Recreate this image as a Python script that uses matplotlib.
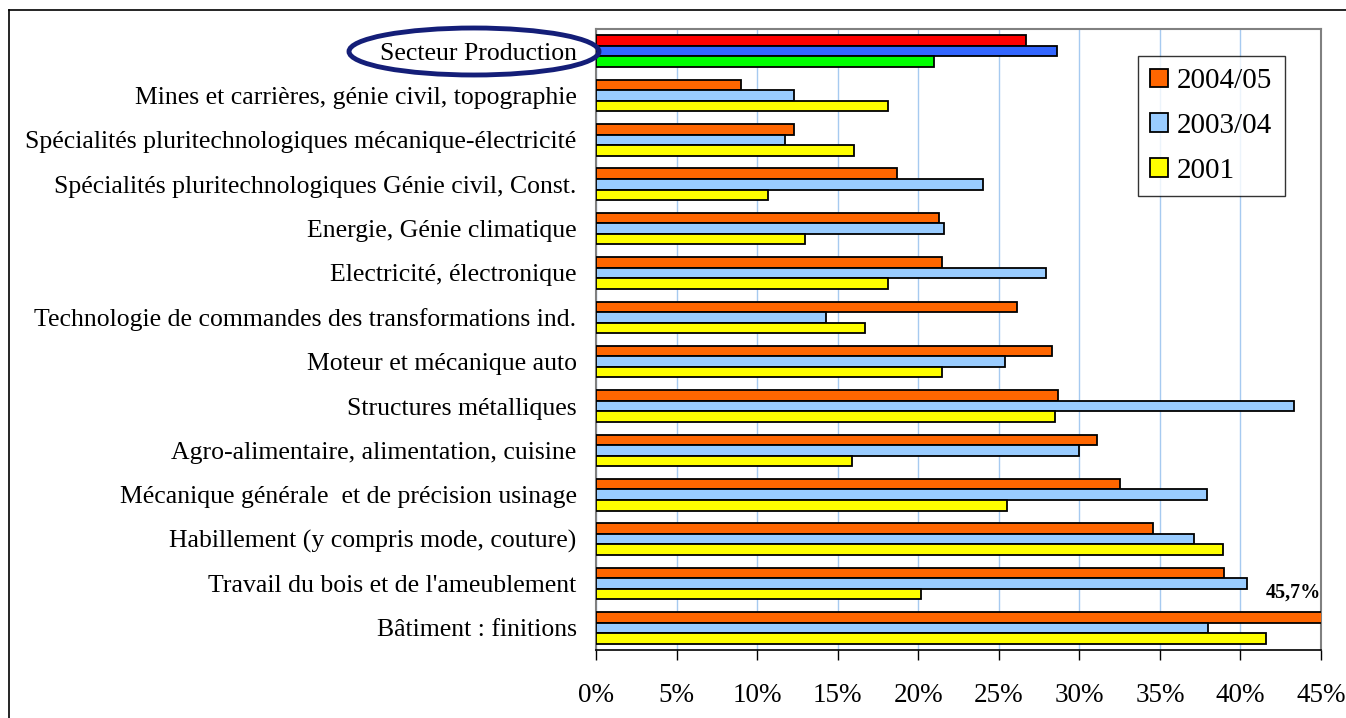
import matplotlib
matplotlib.use("Agg")
import matplotlib.pyplot as plt
import numpy as np
from matplotlib.patches import Ellipse, Patch
from matplotlib.lines import Line2D
from matplotlib.ticker import FuncFormatter

categories = [
    "Secteur Production",
    "Mines et carrières, génie civil, topographie",
    "Spécialités pluritechnologiques mécanique-électricité",
    "Spécialités pluritechnologiques Génie civil, Const.",
    "Energie, Génie climatique",
    "Electricité, électronique",
    "Technologie de commandes des transformations ind.",
    "Moteur et mécanique auto",
    "Structures métalliques",
    "Agro-alimentaire, alimentation, cuisine",
    "Mécanique générale  et de précision usinage",
    "Habillement (y compris mode, couture)",
    "Travail du bois et de l'ameublement",
    "Bâtiment : finitions",
]
series_labels = ["2004/05", "2003/04", "2001"]
v2004_05 = [26.7, 9.0, 12.3, 18.7, 21.3, 21.5, 26.1, 28.3, 28.7, 31.1, 32.5, 34.6, 39.0, 45.7]
v2003_04 = [28.6, 12.3, 11.7, 24.0, 21.6, 27.9, 14.3, 25.4, 43.3, 30.0, 37.9, 37.1, 40.4, 38.0]
v2001 = [21.0, 18.1, 16.0, 10.7, 13.0, 18.1, 16.7, 21.5, 28.5, 15.9, 25.5, 38.9, 20.2, 41.6]
x_ticks = [0, 5, 10, 15, 20, 25, 30, 35, 40, 45]
highlight_label = "45,7%"

colors = ["#FF6600", "#99CCFF", "#FFFF00"]
sector_colors = ["#FF0000", "#3366FF", "#00FF00"]

plt.rcParams['font.family'] = ['Liberation Serif', 'DejaVu Serif']

W, H = 1346, 718
fig = plt.figure(figsize=(W / 100, H / 100), dpi=100)
ax = fig.add_axes([596 / W, 1 - 650 / H, (1321 - 596) / W, (650 - 29) / H])

n = len(categories)
y = np.arange(n)
h = 0.237
all_series = [v2004_05, v2003_04, v2001]
for i, vals in enumerate(all_series):
    cols = [colors[i]] * n
    cols[0] = sector_colors[i]
    ax.barh(y + (i - 1) * h, vals, height=h, color=cols, edgecolor="black",
            linewidth=1.3, zorder=3)

ax.set_ylim(n - 0.5, -0.5)
ax.set_xlim(0, 45)
ax.set_xticks(x_ticks)
ax.xaxis.set_major_formatter(FuncFormatter(lambda v, p: f"{v:.0f}%"))
ax.set_yticks(y)
ax.set_yticklabels(categories, fontsize=18.5)
ax.tick_params(axis="y", length=0, pad=14)
ax.tick_params(axis="x", direction="out", length=7, width=1, labelsize=19.5, pad=17)
ax.grid(axis="x", color="#A6CAF0", linewidth=1, zorder=0)
for s in ["top", "right", "left"]:
    ax.spines[s].set_color("#808080")
    ax.spines[s].set_linewidth(1.5)
ax.spines["bottom"].set_color("black")
ax.spines["bottom"].set_linewidth(1.2)

ax.text(45, 12.2, highlight_label, ha="right", va="center", fontsize=14.5,
        fontweight="bold", zorder=5)

handles = [Patch(facecolor=c, edgecolor="black", linewidth=1.3) for c in colors]
leg = ax.legend(handles, series_labels, loc="upper left",
                bbox_to_anchor=(1138 / W, 1 - 56 / H),
                bbox_transform=fig.transFigure, fontsize=21, frameon=True,
                fancybox=False, edgecolor="black", handlelength=0.62,
                handleheight=0.62, labelspacing=0.64, borderpad=0.42,
                handletextpad=0.3, borderaxespad=0)
leg.get_frame().set_linewidth(1.0)

# highlight ellipse around "Secteur Production"
ell = Ellipse((474 / W, 1 - 51.5 / H), 250 / W, 47 / H, transform=fig.transFigure,
              fill=False, edgecolor="#141E78", linewidth=3.5, zorder=10)
fig.add_artist(ell)

# outer frame
fig.add_artist(Line2D([9 / W, 9 / W], [0, 1 - 10 / H], transform=fig.transFigure,
                      color="black", linewidth=1.2))
fig.add_artist(Line2D([9 / W, 1], [1 - 10 / H, 1 - 10 / H], transform=fig.transFigure,
                      color="black", linewidth=1.2))

fig.savefig("out.png", dpi=100)
